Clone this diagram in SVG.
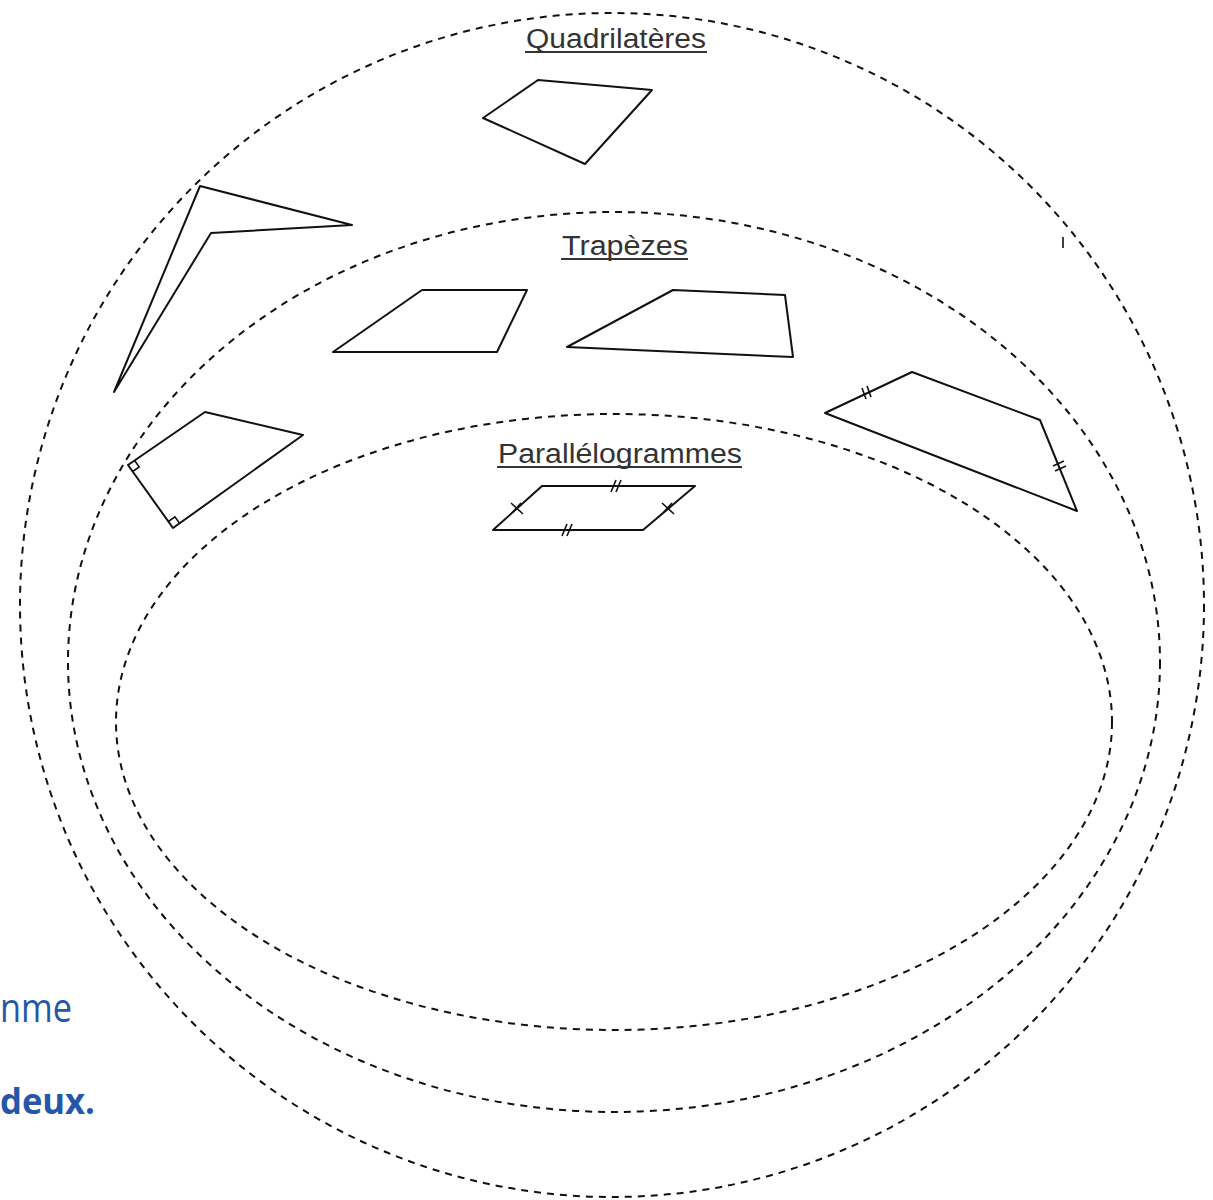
<svg xmlns="http://www.w3.org/2000/svg" width="1213" height="1200" viewBox="0 0 1213 1200">
<style>
.set{fill:none;stroke:#111;stroke-width:2;stroke-dasharray:7 6}
.shape{fill:none;stroke:#111;stroke-width:2;stroke-linejoin:round}
.tick{fill:none;stroke:#111;stroke-width:1.6}
.title{font-family:"Liberation Sans",Arial,sans-serif;font-size:27px;fill:#333}
.ul{stroke:#333;stroke-width:2}
.blue{font-family:"Open Sans","Liberation Sans",sans-serif;fill:#2457a8}
</style>
<rect width="1213" height="1200" fill="#fff"/>
<g id="sets">
<ellipse id="set-quadrilateres" class="set" cx="612" cy="605" rx="592" ry="592"/>
<ellipse id="set-trapezes" class="set" cx="614" cy="662" rx="546" ry="450"/>
<ellipse id="set-parallelogrammes" class="set" cx="614" cy="722" rx="498" ry="308"/>
</g>
<g id="label-quadrilateres">
<text class="title" x="526" y="48" textLength="180" lengthAdjust="spacingAndGlyphs">Quadrilatères</text>
<line class="ul" x1="525" y1="52" x2="707" y2="52"/>
</g>
<g id="label-trapezes">
<text class="title" x="562" y="255" textLength="126" lengthAdjust="spacingAndGlyphs">Trapèzes</text>
<line class="ul" x1="561" y1="259" x2="688" y2="259"/>
</g>
<g id="label-parallelogrammes">
<text class="title" x="498" y="463" textLength="244" lengthAdjust="spacingAndGlyphs">Parallélogrammes</text>
<line class="ul" x1="497" y1="467" x2="742" y2="467"/>
</g>
<g id="quad-general">
<polygon class="shape" points="483,118 538,80 652,90 585,164"/>
</g>
<g id="quad-concave">
<polygon class="shape" points="200,186 352,225 211,233 114,392"/>
</g>
<g id="quad-right-angles">
<polygon class="shape" points="128,465 205,412 303,435 173,528"/>
<polyline class="tick" points="134.6,460.5 139.2,467 132.6,471.5"/>
<polyline class="tick" points="168.4,521.5 174.9,516.9 179.5,523.3"/>
</g>
<g id="trapeze-1">
<polygon class="shape" points="333,352 422,290 527,290 497,352"/>
</g>
<g id="trapeze-2">
<polygon class="shape" points="567,347 673,290 785,295 793,357"/>
</g>
<g id="trapeze-isocele">
<polygon class="shape" points="825,413 912,372 1040,420 1077,511"/>
<line class="tick" x1="862" y1="388" x2="866" y2="399"/>
<line class="tick" x1="867" y1="386" x2="871" y2="397"/>
<line class="tick" x1="1053" y1="466" x2="1064" y2="461"/>
<line class="tick" x1="1055" y1="471" x2="1066" y2="466"/>
</g>
<g id="parallelogramme">
<polygon class="shape" points="493,530 542,486 695,486 643,530"/>
<line class="tick" x1="611" y1="492" x2="616" y2="480"/>
<line class="tick" x1="616" y1="492" x2="621" y2="480"/>
<line class="tick" x1="562" y1="536" x2="567" y2="524"/>
<line class="tick" x1="567" y1="536" x2="572" y2="524"/>
<line class="tick" x1="511" y1="503" x2="523" y2="514"/>
<line class="tick" x1="512" y1="513" x2="521" y2="503"/>
<line class="tick" x1="662" y1="503" x2="674" y2="514"/>
<line class="tick" x1="663" y1="513" x2="672" y2="503"/>
</g>
<g id="stray">
<line class="tick" x1="1063" y1="237" x2="1063" y2="248" stroke-width="1"/>
</g>
<g id="side-text">
<text class="blue" x="0" y="1022" font-size="40" textLength="72" lengthAdjust="spacingAndGlyphs">nme</text>
<text class="blue" x="0" y="1114" font-size="36" font-weight="bold" textLength="95" lengthAdjust="spacingAndGlyphs">deux.</text>
</g>
</svg>
